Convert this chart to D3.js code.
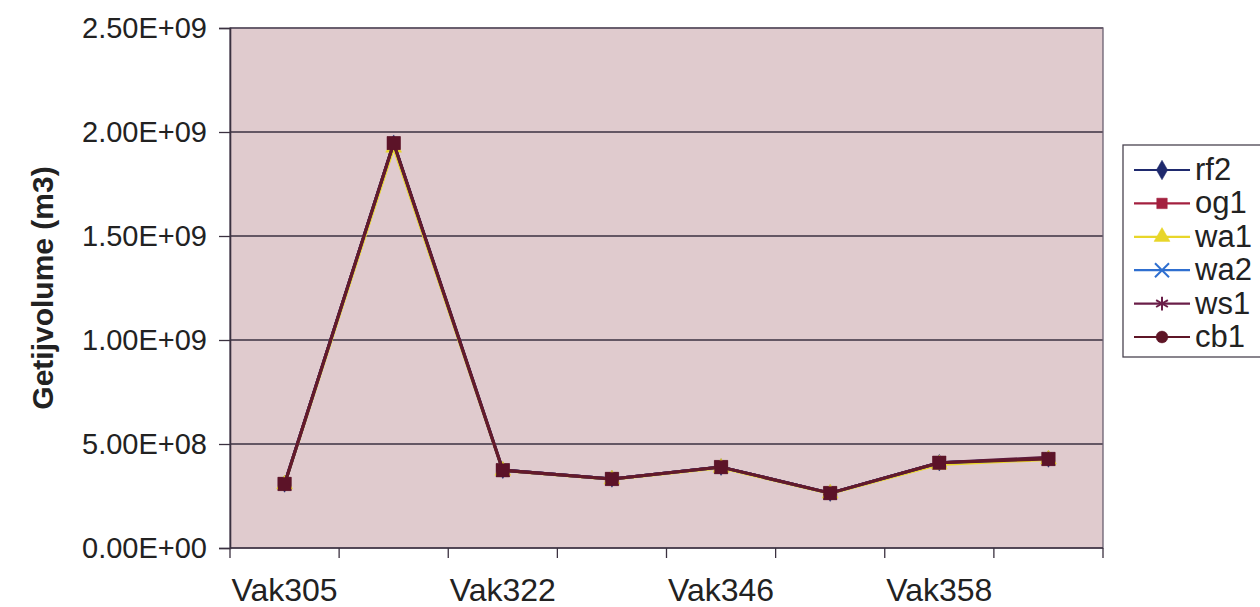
<!DOCTYPE html>
<html>
<head>
<meta charset="utf-8">
<script src="https://cdn.jsdelivr.net/npm/d3@7"></script>
<style>
  html, body { margin: 0; padding: 0; background: #ffffff; }
  svg { display: block; font-family: "Liberation Sans", Arial, sans-serif; }
</style>
</head>
<body>
<svg id="chart" width="1260" height="607"></svg>
<script>
// Tidal volume per section (m3)
const categoryLabels = ["Vak305", "", "Vak322", "", "Vak346", "", "Vak358", ""];
const seriesNames = ["rf2", "og1", "wa1", "wa2", "ws1", "cb1"];
const rf2 = [3.08e8, 1.946e9, 3.74e8, 3.32e8, 3.89e8, 2.64e8, 4.10e8, 4.28e8];
const og1 = [3.08e8, 1.946e9, 3.74e8, 3.32e8, 3.89e8, 2.64e8, 4.10e8, 4.28e8];
const wa1 = [3.06e8, 1.925e9, 3.72e8, 3.30e8, 3.86e8, 2.62e8, 4.02e8, 4.26e8];
const wa2 = [3.08e8, 1.946e9, 3.74e8, 3.32e8, 3.89e8, 2.64e8, 4.10e8, 4.32e8];
const ws1 = [3.08e8, 1.946e9, 3.74e8, 3.32e8, 3.89e8, 2.64e8, 4.10e8, 4.36e8];
const cb1 = [3.08e8, 1.946e9, 3.74e8, 3.32e8, 3.89e8, 2.64e8, 4.10e8, 4.28e8];
const yTicks = [0, 5e8, 1e9, 1.5e9, 2e9, 2.5e9];

const seriesValues = [rf2, og1, wa1, wa2, ws1, cb1];
const seriesColors = ["#1f2a6e", "#a3203f", "#e8d62a", "#2f6fd0", "#6a1e48", "#5e1526"];
const plotColors   = ["#1f2a6e", "#5c1328", "#e8d62a", "#2f6fd0", "#5e1a3a", "#641a2a"];
const seriesSymbols = [d3.symbolDiamond, d3.symbolSquare, d3.symbolTriangle, d3.symbolX, d3.symbolAsterisk, d3.symbolCircle];

const svg = d3.select("#chart");
const m = { left: 230, top: 28, right: 1103, bottom: 548 };

const x = d3.scaleBand().domain(d3.range(categoryLabels.length)).range([m.left, m.right]).paddingInner(0).paddingOuter(0);
const y = d3.scaleLinear().domain([0, 2.5e9]).range([m.bottom, m.top]);

// plot area
svg.append("rect")
  .attr("x", m.left).attr("y", m.top)
  .attr("width", m.right - m.left).attr("height", m.bottom - m.top)
  .attr("fill", "#e0cbce");

// horizontal gridlines
svg.append("g").selectAll("line").data(yTicks.slice(1)).join("line")
  .attr("x1", m.left).attr("x2", m.right)
  .attr("y1", d => y(d)).attr("y2", d => y(d))
  .attr("stroke", "#3b3140").attr("stroke-width", 1.6);

// plot border
svg.append("rect")
  .attr("x", m.left).attr("y", m.top)
  .attr("width", m.right - m.left).attr("height", m.bottom - m.top)
  .attr("fill", "none").attr("stroke", "#6a6070").attr("stroke-width", 1.3);

// y axis
const yAxis = d3.axisLeft(y).tickValues(yTicks).tickSize(11).tickPadding(12)
  .tickFormat(d => {
    const s = d3.format(".2e")(d); // e.g. 2.50e+9
    const [mant, exp] = s.split("e");
    const sign = exp[0] === "-" ? "-" : "+";
    const e = Math.abs(+exp);
    return mant + "E" + sign + String(e).padStart(2, "0");
  });
const gy = svg.append("g").attr("transform", `translate(${m.left},0)`).call(yAxis);
gy.select(".domain").attr("stroke", "#3b3140").attr("stroke-width", 1.6);
gy.selectAll(".tick line").attr("stroke", "#3b3140").attr("stroke-width", 1.3);
gy.selectAll(".tick text").attr("font-size", 29).attr("fill", "#222")
  .attr("font-family", "Liberation Sans, Arial, sans-serif");

// x axis: ticks on category boundaries
const boundaries = d3.range(categoryLabels.length + 1).map(i => m.left + i * x.bandwidth());
const gx = svg.append("g");
gx.append("line").attr("x1", m.left).attr("x2", m.right).attr("y1", m.bottom).attr("y2", m.bottom)
  .attr("stroke", "#3b3140").attr("stroke-width", 1.6);
gx.selectAll("line.tk").data(boundaries).join("line").attr("class", "tk")
  .attr("x1", d => d).attr("x2", d => d).attr("y1", m.bottom).attr("y2", m.bottom + 10)
  .attr("stroke", "#3b3140").attr("stroke-width", 1.3);
gx.selectAll("text").data(categoryLabels.map((l, i) => ({ l, i })).filter(d => d.l)).join("text")
  .attr("x", d => x(d.i) + x.bandwidth() / 2)
  .attr("y", 601)
  .attr("text-anchor", "middle")
  .attr("font-size", 32).attr("fill", "#222")
  .text(d => d.l);

// y axis title
svg.append("text")
  .attr("transform", `translate(53,${(m.top + m.bottom) / 2}) rotate(-90)`)
  .attr("text-anchor", "middle")
  .attr("font-size", 30).attr("font-weight", "bold").attr("fill", "#222")
  .text("Getijvolume (m3)");

// series lines and markers
const line = d3.line().x((d, i) => x(i) + x.bandwidth() / 2).y(d => y(d));
const markerSizes = [80, 180, 110, 70, 90, 90];
seriesValues.forEach((vals, si) => {
  const g = svg.append("g");
  g.append("path").datum(vals).attr("d", line)
    .attr("fill", "none").attr("stroke", plotColors[si]).attr("stroke-width", 3)
    .attr("stroke-linejoin", "round");
  const open = seriesSymbols[si] === d3.symbolX || seriesSymbols[si] === d3.symbolAsterisk;
  g.selectAll("path.mk").data(vals).join("path").attr("class", "mk")
    .attr("transform", (d, i) => `translate(${x(i) + x.bandwidth() / 2},${y(d)})`)
    .attr("d", d3.symbol().type(seriesSymbols[si]).size(markerSizes[si]))
    .attr("fill", open ? "none" : plotColors[si])
    .attr("stroke", plotColors[si]).attr("stroke-width", open ? 2 : 0.5);
});
// og1 squares sit on top of the coincident lines
svg.append("g").selectAll("path").data(og1).join("path")
  .attr("transform", (d, i) => `translate(${x(i) + x.bandwidth() / 2},${y(d)})`)
  .attr("d", d3.symbol().type(d3.symbolSquare).size(180))
  .attr("fill", plotColors[1]);

// legend
const lg = svg.append("g");
lg.append("rect").attr("x", 1123).attr("y", 145).attr("width", 150).attr("height", 212)
  .attr("fill", "#ffffff").attr("stroke", "#4a4450").attr("stroke-width", 1.3);
const legendY = d3.scalePoint().domain(seriesNames).range([170, 337]);
seriesNames.forEach((name, si) => {
  const yy = legendY(name);
  lg.append("line").attr("x1", 1134).attr("x2", 1190).attr("y1", yy).attr("y2", yy)
    .attr("stroke", seriesColors[si]).attr("stroke-width", 2.2);
  const open = seriesSymbols[si] === d3.symbolX || seriesSymbols[si] === d3.symbolAsterisk;
  lg.append("path")
    .attr("transform", `translate(1162,${yy})`)
    .attr("d", d3.symbol().type(seriesSymbols[si]).size(open ? 130 : 110))
    .attr("fill", open ? "none" : seriesColors[si])
    .attr("stroke", seriesColors[si]).attr("stroke-width", open ? 2 : 0.5);
  lg.append("text").attr("x", 1195).attr("y", yy + 10)
    .attr("font-size", 31).attr("fill", "#222").text(name);
});
</script>
</body>
</html>
